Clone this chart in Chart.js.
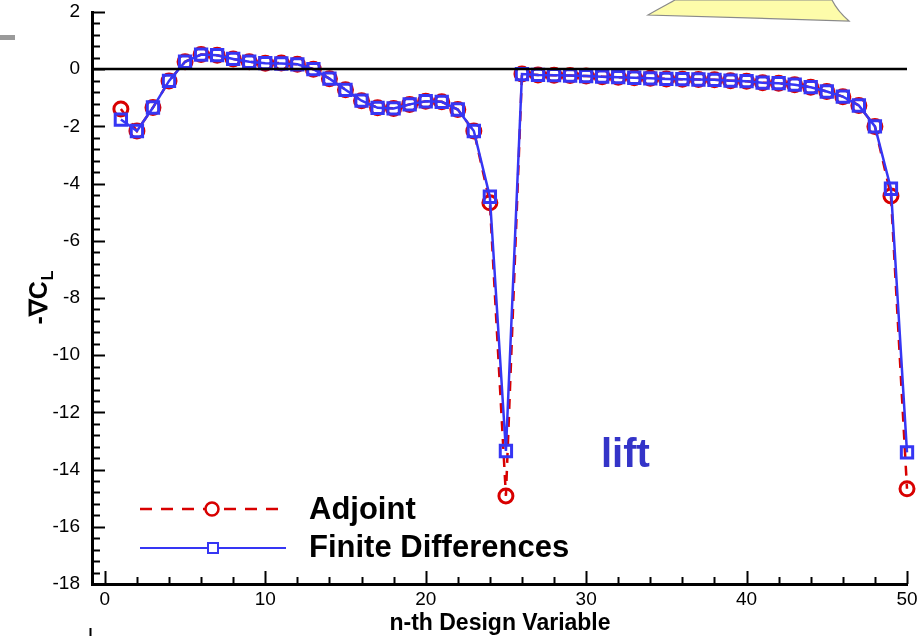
<!DOCTYPE html>
<html>
<head>
<meta charset="utf-8">
<script src="https://cdn.jsdelivr.net/npm/chart.js@4.4.1/dist/chart.umd.min.js"></script>
<style>
  html, body { margin: 0; padding: 0; background: #fff; overflow: hidden; }
  #wrap { position: relative; width: 918px; height: 636px; }
  canvas { position: absolute; left: 0; top: 0; }
  #deco { position: absolute; left: 0; top: 0; pointer-events: none; }
</style>
</head>
<body>
<div id="wrap">
  <canvas id="c" width="918" height="636"></canvas>
  <svg id="deco" width="918" height="636">
    <rect x="0" y="35" width="15" height="5" fill="#9a9a9a"/>
    <path d="M648,15 C660,8 670,3 675,0 L832,0 C836,8 842,15 849,21 Z" fill="#fdfcaa" stroke="#8a8a8a" stroke-width="1.2"/>
    <line x1="90.5" y1="628" x2="90.5" y2="636" stroke="#000" stroke-width="2"/>
  </svg>
</div>
<script>
// ---- data ----
const designVariables = [1,2,3,4,5,6,7,8,9,10,11,12,13,14,15,16,17,18,19,20,21,22,23,24,25,
                         26,27,28,29,30,31,32,33,34,35,36,37,38,39,40,41,42,43,44,45,46,47,48,49,50];
const adjointValues = [-1.39,-2.16,-1.34,-0.41,0.26,0.51,0.49,0.36,0.26,0.21,0.22,0.17,0.0,-0.33,-0.72,-1.10,-1.35,-1.37,-1.23,-1.12,-1.14,-1.41,-2.16,-4.67,-14.92,
                       -0.17,-0.20,-0.21,-0.22,-0.24,-0.26,-0.28,-0.30,-0.32,-0.34,-0.35,-0.36,-0.37,-0.40,-0.42,-0.47,-0.49,-0.54,-0.63,-0.78,-0.96,-1.27,-2.00,-4.43,-14.67];
const finiteDiffValues = [-1.76,-2.16,-1.34,-0.41,0.26,0.51,0.49,0.36,0.26,0.21,0.20,0.17,0.0,-0.33,-0.72,-1.10,-1.35,-1.37,-1.23,-1.12,-1.14,-1.41,-2.16,-4.46,-13.35,
                          -0.17,-0.20,-0.21,-0.22,-0.24,-0.26,-0.28,-0.30,-0.32,-0.34,-0.35,-0.36,-0.37,-0.40,-0.42,-0.47,-0.49,-0.54,-0.63,-0.78,-0.96,-1.27,-2.00,-4.18,-13.40];
const xTickLabels = [0,10,20,30,40,50];
const yTickLabels = [2,0,-2,-4,-6,-8,-10,-12,-14,-16,-18];
const seriesNames = ['Adjoint','Finite Differences'];
const xTitle = 'n-th Design Variable';
const annotationText = 'lift';

const RED = '#d80000';
const BLUE = '#3636f4';
const FONT = '"Liberation Sans", Arial, Helvetica, sans-serif';

const toPts = (ys) => designVariables.map((x, i) => ({x: x, y: ys[i]}));

const decorPlugin = {
  id: 'decor',
  afterDraw(chart) {
    const ctx = chart.ctx;
    const xs = chart.scales.x, ys = chart.scales.y;
    const a = chart.chartArea;
    ctx.save();
    // zero line
    ctx.strokeStyle = '#000';
    ctx.lineWidth = 2.4;
    ctx.beginPath();
    const y0 = Math.round(ys.getPixelForValue(0));
    ctx.moveTo(a.left, y0); ctx.lineTo(a.right, y0); ctx.stroke();
    // inward ticks, y axis
    ctx.lineWidth = 2;
    for (let k = 0; k <= 50; k++) {
      const v = -18 + k * 0.4;
      const major = (k % 5 === 0);
      const py = Math.round(ys.getPixelForValue(v)) + 0.5;
      ctx.beginPath();
      ctx.moveTo(a.left, py); ctx.lineTo(a.left + (major ? 13 : 8), py); ctx.stroke();
    }
    // inward ticks, x axis
    for (let k = 0; k <= 25; k++) {
      const v = k * 2;
      const major = (k % 5 === 0);
      const px = Math.round(xs.getPixelForValue(v)) + 0.5;
      ctx.beginPath();
      ctx.moveTo(px, a.bottom); ctx.lineTo(px, a.bottom - (major ? 13 : 7)); ctx.stroke();
    }
    // legend
    ctx.lineWidth = 2.5;
    ctx.strokeStyle = RED;
    ctx.setLineDash([12, 9]);
    ctx.beginPath(); ctx.moveTo(140, 509); ctx.lineTo(284, 509); ctx.stroke();
    ctx.setLineDash([]);
    ctx.fillStyle = '#fff';
    ctx.beginPath(); ctx.arc(212, 509, 6.5, 0, Math.PI * 2); ctx.fill(); ctx.stroke();
    ctx.strokeStyle = BLUE;
    ctx.lineWidth = 2;
    ctx.beginPath(); ctx.moveTo(140, 548); ctx.lineTo(286, 548); ctx.stroke();
    ctx.fillStyle = '#fff';
    ctx.beginPath(); ctx.rect(208, 543, 10, 10); ctx.fill(); ctx.stroke();
    ctx.fillStyle = '#000';
    ctx.font = 'bold 31px ' + FONT;
    ctx.textBaseline = 'alphabetic';
    ctx.textAlign = 'left';
    ctx.fillText(seriesNames[0], 309, 519);
    ctx.fillText(seriesNames[1], 309, 557);
    // annotation
    ctx.fillStyle = '#3434c8';
    ctx.font = 'bold 40px ' + FONT;
    ctx.fillText(annotationText, 601, 467);
    // x title
    ctx.fillStyle = '#000';
    ctx.font = 'bold 23px ' + FONT;
    ctx.textAlign = 'center';
    ctx.fillText(xTitle, 500, 630);
    // y title with subscript
    ctx.translate(47, 298);
    ctx.rotate(-Math.PI / 2);
    ctx.textAlign = 'left';
    ctx.font = 'bold 25px ' + FONT;
    const main = '-\u2207C';
    const wMain = ctx.measureText(main).width;
    ctx.font = 'bold 16px ' + FONT;
    const wSub = ctx.measureText('L').width;
    const start = -(wMain + wSub) / 2;
    ctx.font = 'bold 25px ' + FONT;
    ctx.fillText(main, start, 0);
    ctx.font = 'bold 16px ' + FONT;
    ctx.fillText('L', start + wMain + 1, 6);
    ctx.restore();
  }
};

new Chart(document.getElementById('c'), {
  type: 'line',
  data: {
    datasets: [
      {
        label: seriesNames[0],
        data: toPts(adjointValues),
        borderColor: RED,
        backgroundColor: '#fff',
        borderWidth: 2.5,
        borderDash: [10, 8],
        pointStyle: 'circle',
        pointRadius: 7,
        pointBorderWidth: 3,
        pointBorderColor: RED,
        pointBackgroundColor: 'rgba(255,255,255,0)',
        tension: 0,
        clip: false,
        order: 2
      },
      {
        label: seriesNames[1],
        data: toPts(finiteDiffValues),
        borderColor: BLUE,
        backgroundColor: '#fff',
        borderWidth: 2.5,
        pointStyle: 'rect',
        pointRadius: 8,
        pointBorderWidth: 3,
        pointBorderColor: BLUE,
        pointBackgroundColor: 'rgba(255,255,255,0)',
        tension: 0,
        clip: false,
        order: 1
      }
    ]
  },
  options: {
    responsive: false,
    animation: false,
    devicePixelRatio: 1,
    layout: { padding: { top: 12, right: 11, left: 0, bottom: 0 } },
    plugins: { legend: { display: false }, tooltip: { enabled: false } },
    scales: {
      x: {
        type: 'linear',
        min: -0.8,
        max: 50,
        grid: { display: false, drawTicks: false },
        border: { display: true, color: '#000', width: 3 },
        ticks: { color: '#000', font: { family: FONT, size: 19 }, padding: 4, maxRotation: 0 },
        afterBuildTicks: (s) => { s.ticks = xTickLabels.map(v => ({ value: v })); },
        afterFit: (s) => { s.height = 52; s.paddingLeft = 0; s.paddingRight = 0; }
      },
      y: {
        type: 'linear',
        min: -18,
        max: 2,
        grid: { display: false, drawTicks: false },
        border: { display: true, color: '#000', width: 3 },
        ticks: { color: '#000', font: { family: FONT, size: 19 }, padding: 12 },
        afterBuildTicks: (s) => { s.ticks = yTickLabels.map(v => ({ value: v })); },
        afterFit: (s) => { s.width = 92; s.paddingTop = 0; s.paddingBottom = 0; }
      }
    }
  },
  plugins: [decorPlugin]
});
</script>
</body>
</html>
